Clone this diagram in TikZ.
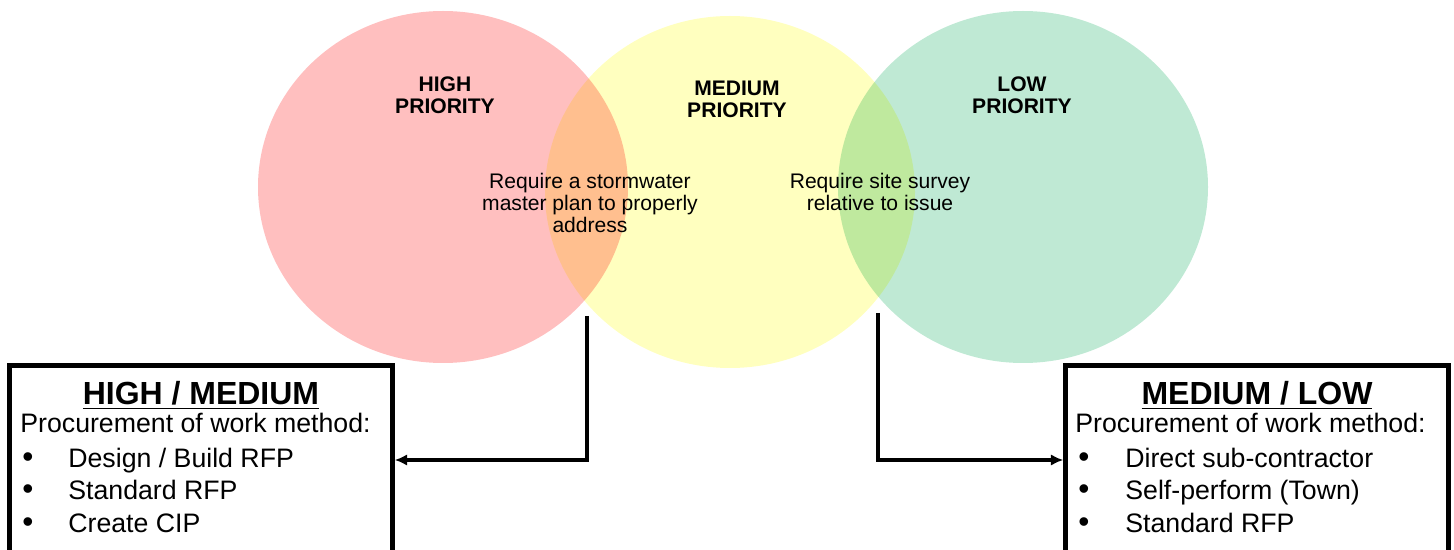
\documentclass[tikz,border=0pt]{standalone}
\usepackage{fontspec}
\setmainfont{Liberation Sans}
\usetikzlibrary{arrows.meta, positioning}
\definecolor{hiRed}{HTML}{FFBFBF}
\definecolor{midYellow}{HTML}{FFFFBF}
\definecolor{loGreen}{HTML}{BFE9D4}

\begin{document}
\begin{tikzpicture}[x=0.02cm, y=-0.02cm,
  procbox/.style={draw, line width=2.6pt, minimum width=7.66cm, minimum height=3.78cm},
  link/.style={line width=2pt, -{Latex[length=7pt, width=6.5pt]}},
  prio/.style={font=\fontsize{12}{12.5}\selectfont\bfseries, align=center},
  note/.style={font=\fontsize{12}{12.5}\selectfont, align=center},
  boxhead/.style={font=\fontsize{18.2}{20}\selectfont\bfseries, anchor=base},
  boxtxt/.style={font=\fontsize{15.2}{17}\selectfont, anchor=base west, inner sep=0pt},
  boxdot/.style={font=\fontsize{18}{18}\selectfont, anchor=base, inner sep=0pt}]
  \useasboundingbox (0,0) rectangle (1454,550);
  \def\rx{185}
  \def\ry{176}
  % the three priority circles
  \begin{scope}[blend group=multiply]
    \fill[hiRed] (443,187) ellipse [x radius=\rx, y radius=\ry];
    \fill[midYellow] (730,192) ellipse [x radius=\rx, y radius=\ry];
    \fill[loGreen] (1023,187) ellipse [x radius=\rx, y radius=\ry];
  \end{scope}
  \node[prio] (high) at (445,95.5) {HIGH\\PRIORITY};
  \node[prio] (medium) at (737,99.5) {MEDIUM\\PRIORITY};
  \node[prio] (low) at (1022,95.5) {LOW\\PRIORITY};
  \node[note] (hmnote) at (590,203) {Require a stormwater\\master plan to properly\\address};
  \node[note] (mlnote) at (880,192) {Require site survey\\relative to issue};
  % boxes
  \node[procbox] (hmbox) at (201,460) {};
  \node[procbox] (mlbox) at (1257,460) {};
  \node[boxhead] (hmhead) at (201,405) {\underline{HIGH / MEDIUM}};
  \node[boxhead] (mlhead) at (1257,405) {\underline{MEDIUM / LOW}};
  \node[boxtxt] (hmproc) at (20,433) {Procurement of work method:};
  \node[boxtxt] (mlproc) at (1075,433) {Procurement of work method:};
  \foreach \t [count=\i] in {Design / Build RFP, Standard RFP, Create CIP} {
    \pgfmathsetmacro{\yy}{467+(\i-1)*32.5}
    \node[boxdot] (hmdot\i) at (28,\yy) {\textbullet};
    \node[boxtxt] (hmitem\i) at (68,\yy) {\t};
  }
  \foreach \t [count=\i] in {Direct sub-contractor, Self-perform (Town), Standard RFP} {
    \pgfmathsetmacro{\yy}{467+(\i-1)*32.5}
    \node[boxdot] (mldot\i) at (1084,\yy) {\textbullet};
    \node[boxtxt] (mlitem\i) at (1125,\yy) {\t};
  }
  % connectors
  \coordinate (hmstart) at (587,316);
  \coordinate (mlstart) at (878,313);
  \draw[link] (hmstart) |- (hmbox.east);
  \draw[link] (mlstart) |- (mlbox.west);
\end{tikzpicture}
\end{document}
